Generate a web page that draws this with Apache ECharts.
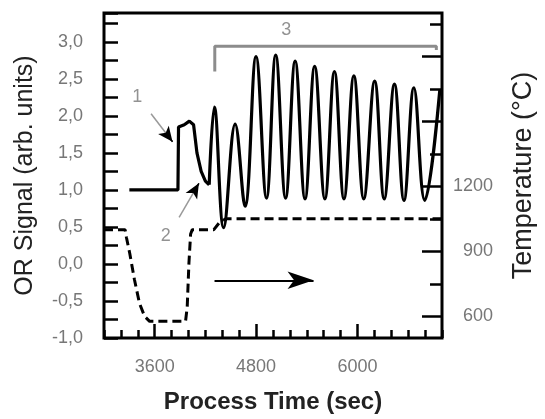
<!DOCTYPE html>
<html>
<head>
<meta charset="utf-8">
<script src="https://cdn.jsdelivr.net/npm/echarts@6/dist/echarts.min.js"></script>
<style>
  html, body { margin: 0; padding: 0; background: #fff; }
  #chart { width: 545px; height: 419px; }
</style>
</head>
<body>
<div id="chart"></div>
<script>
// x axis: process time (sec)
const timeLabels = [3600, 4800, 6000]
// left axis: OR signal
const signalLabels = [-1, -0.5, 0, 0.5, 1, 1.5, 2, 2.5, 3]
// right axis: temperature
const tempMajorTicks = [600, 900, 1200, 1500, 1800]
const tempMinorTicks = [750, 1050, 1350, 1650, 1950]
const tempLabels = [600, 900, 1200]

// OR signal, step + first bump (sharp part)
const sigTimeA = [3300, 3875, 3882, 3950, 4010, 4060, 4100, 4150, 4200, 4245]
const sigValA = [1.0, 1.0, 1.85, 1.88, 1.93, 1.88, 1.5, 1.25, 1.12, 1.07]
// OR signal, oscillations
const sigTimeB = [4245, 4306, 4416, 4552, 4669, 4799, 4923, 5032, 5149, 5262, 5379, 5493, 5614, 5727, 5840, 5957, 6074, 6203, 6316, 6437, 6550, 6667, 6796, 6975]
const sigValB = [1.07, 2.12, 0.49, 1.89, 0.78, 2.8, 0.89, 2.82, 0.89, 2.74, 0.88, 2.67, 0.88, 2.6, 0.88, 2.54, 0.88, 2.47, 0.88, 2.43, 0.86, 2.38, 0.86, 2.36]

// temperature (dashed)
const tempTime = [3000, 3250, 3265, 3305, 3360, 3420, 3480, 3540, 3965, 3985, 4005, 4025, 4045, 4300, 4360, 4440, 7000]
const tempVal = [1000, 1000, 965, 890, 770, 660, 600, 577, 577, 645, 845, 980, 1000, 1000, 1030, 1050, 1050]

// annotations (time, signal)
const bracket3 = [[4311, 2.6], [4311, 2.94], [6933, 2.94], [6933, 2.89]]
const arrow1 = [[3557, 2.03], [3811, 1.65]]
const arrow2 = [[3889, 0.63], [4123, 1.09]]
const arrowRamp = [[4308, -0.22], [5480, -0.22]]
const notes = [[3393, 2.25, '1'], [3732, 0.38, '2'], [5157, 3.16, '3']]

const zip = (a, b) => a.map((v, i) => [v, b[i]])
const near = (p, q, f) => [p[0] + (q[0] - p[0]) * f, p[1] + (q[1] - p[1]) * f]

const tickFont = { fontFamily: 'Liberation Sans', fontSize: 18, color: '#777' }
const titleFont = { fontFamily: 'Liberation Sans', fontSize: 25, color: '#222' }

function arrowLines (a, grayColor) {
  // gray shaft + short black piece carrying the head
  return [
    [{ coord: a[0], symbol: 'none', lineStyle: { color: grayColor, width: 1.5, type: 'solid' } },
      { coord: a[1], symbol: 'none' }],
    [{ coord: near(a[0], a[1], 0.85), symbol: 'none', lineStyle: { color: '#000', width: 1.5, type: 'solid' } },
      { coord: a[1], symbol: 'arrow', symbolSize: [10, 15] }]
  ]
}

const myChart = echarts.init(document.getElementById('chart'))
const option = {
  animation: false,
  grid: { left: 104, right: 96, top: 13, bottom: 77, show: true, borderColor: '#000', borderWidth: 3 },
  xAxis: [
    {
      // short ticks every 200 s
      type: 'value', min: 3000, max: 7000, interval: 200, position: 'bottom',
      axisLine: { show: false, onZero: false },
      axisTick: { show: true, inside: true, length: 8, lineStyle: { color: '#000', width: 2.5 } },
      axisLabel: { show: false },
      splitLine: { show: false }
    },
    {
      // long ticks + labels
      type: 'value', min: 3000, max: 7000, position: 'bottom',
      axisLine: { show: false, onZero: false },
      axisTick: { show: true, inside: true, length: 14, customValues: timeLabels, lineStyle: { color: '#000', width: 2.5 } },
      axisLabel: Object.assign({ customValues: timeLabels, margin: 20, formatter: v => String(v) }, tickFont),
      splitLine: { show: false },
      name: 'Process Time (sec)',
      nameLocation: 'middle',
      nameGap: 52,
      nameTextStyle: Object.assign({}, titleFont, { fontWeight: 'bold', fontSize: 24 })
    }
  ],
  yAxis: [
    {
      type: 'value', min: -1, max: 3.39, interval: 0.25, position: 'left',
      axisLine: { show: false, onZero: false },
      axisTick: { show: true, inside: true, length: 14, lineStyle: { color: '#000', width: 2.5 } },
      axisLabel: Object.assign({
        customValues: signalLabels,
        margin: 21,
        formatter: v => v.toFixed(1).replace('.', ',')
      }, tickFont),
      splitLine: { show: false },
      name: 'OR Signal (arb. units)',
      nameLocation: 'middle',
      nameRotate: 90,
      nameGap: 66,
      nameTextStyle: titleFont
    },
    {
      type: 'value', min: 500, max: 2000, position: 'right',
      axisLine: { show: false, onZero: false },
      axisTick: { show: true, inside: true, length: 20, customValues: tempMajorTicks, lineStyle: { color: '#000', width: 2.5 } },
      axisLabel: Object.assign({ customValues: tempLabels, margin: 51, align: 'right', formatter: v => String(v) }, tickFont),
      splitLine: { show: false },
      name: 'Temperature (°C)',
      nameLocation: 'middle',
      nameRotate: 90,
      nameGap: 68,
      nameTextStyle: Object.assign({}, titleFont, { fontSize: 27 })
    },
    {
      type: 'value', min: 500, max: 2000, position: 'right',
      axisLine: { show: false, onZero: false },
      axisTick: { show: true, inside: true, length: 12, customValues: tempMinorTicks, lineStyle: { color: '#000', width: 2.5 } },
      axisLabel: { show: false },
      splitLine: { show: false }
    }
  ],
  series: [
    {
      name: 'signal-a',
      type: 'line',
      yAxisIndex: 0,
      data: zip(sigTimeA, sigValA),
      showSymbol: false,
      lineStyle: { color: '#000', width: 3.2 },
      z: 3
    },
    {
      name: 'signal-b',
      type: 'line',
      yAxisIndex: 0,
      data: zip(sigTimeB, sigValB),
      smooth: 0.4,
      showSymbol: false,
      lineStyle: { color: '#000', width: 3.2 },
      z: 3
    },
    {
      name: 'temperature',
      type: 'line',
      yAxisIndex: 1,
      data: zip(tempTime, tempVal),
      showSymbol: false,
      lineStyle: { color: '#000', width: 3, type: [9, 5] },
      z: 2
    },
    {
      name: 'bracket',
      type: 'line',
      yAxisIndex: 0,
      data: bracket3,
      showSymbol: false,
      lineStyle: { color: '#8c8c8c', width: 3 },
      silent: true,
      markLine: {
        silent: true,
        label: { show: false },
        emphasis: { disabled: true },
        lineStyle: { type: 'solid' },
        data: [
          ...arrowLines(arrow1, '#999'),
          ...arrowLines(arrow2, '#999'),
          [{ coord: arrowRamp[0], symbol: 'none', lineStyle: { color: '#000', width: 2, type: 'solid' } },
            { coord: arrowRamp[1], symbol: 'arrow', symbolSize: [13, 26] }]
        ]
      }
    },
    {
      name: 'notes',
      type: 'scatter',
      yAxisIndex: 0,
      data: notes,
      symbolSize: 0,
      silent: true,
      label: {
        show: true,
        position: 'inside',
        formatter: p => p.value[2],
        fontFamily: 'Liberation Sans',
        fontSize: 18,
        color: '#777'
      }
    }
  ]
}
myChart.setOption(option)
</script>
</body>
</html>
